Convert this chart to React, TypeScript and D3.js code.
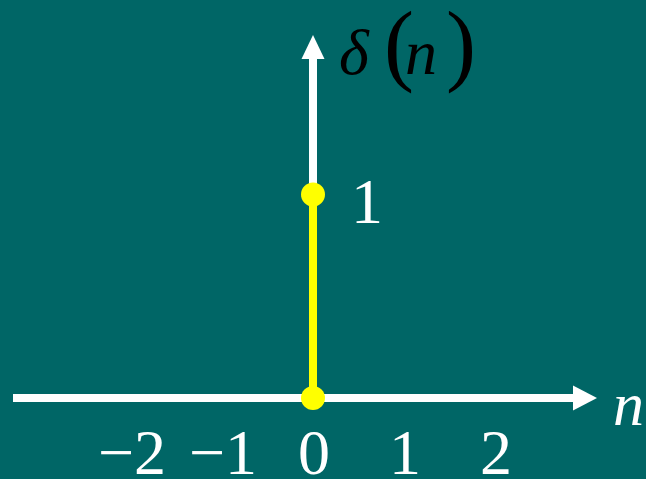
import React from "react";
import * as d3 from "d3";

const nValues = [-2, -1, 0, 1, 2];
const deltaValues = [0, 0, 1, 0, 0];
const tickLabels = ["−2", "−1", "0", "1", "2"];
const yTickValues = [1];
const yTickLabels = ["1"];

const W = 646;
const H = 479;
const BG = "#006666";
const AXIS = "#ffffff";
const STEM = "#ffff00";
const SERIF = "'Liberation Serif', 'Times New Roman', serif";

export default function App() {
  const x = d3.scaleLinear().domain([-2, 2]).range([313 - 2 * 91, 313 + 2 * 91]);
  const y = d3.scaleLinear().domain([0, 1]).range([398, 194.5]);

  const x0 = x(0);
  const y0 = y(0);
  const axisLeft = 13;
  const axisRight = 597;
  const axisTop = 35;
  const headLen = 24;
  const headHalf = 12.5;

  const samples = nValues.map((n, i) => ({ n, v: deltaValues[i] }));
  const stems = samples.filter((d) => d.v !== 0);

  return (
    <svg
      width={W}
      height={H}
      viewBox={`0 0 ${W} ${H}`}
      style={{ position: "absolute", left: 0, top: 0, display: "block" }}
    >
      <rect x={0} y={0} width={W} height={H} fill={BG} />

      {/* horizontal axis */}
      <line x1={axisLeft} y1={y0} x2={axisRight - headLen + 1} y2={y0} stroke={AXIS} strokeWidth={8} />
      <path
        d={`M${axisRight},${y0} L${axisRight - headLen},${y0 - headHalf} L${axisRight - headLen},${y0 + headHalf} Z`}
        fill={AXIS}
      />
      {/* vertical axis */}
      <line x1={x0} y1={y0} x2={x0} y2={axisTop + headLen - 1} stroke={AXIS} strokeWidth={8} />
      <path
        d={`M${x0},${axisTop} L${x0 - 11.5},${axisTop + headLen} L${x0 + 11.5},${axisTop + headLen} Z`}
        fill={AXIS}
      />

      {/* stems */}
      {stems.map((d) => (
        <g key={d.n}>
          <line x1={x(d.n)} y1={y(0)} x2={x(d.n)} y2={y(d.v)} stroke={STEM} strokeWidth={8} />
          <circle cx={x(d.n)} cy={y(d.v)} r={12} fill={STEM} />
          <circle cx={x(d.n)} cy={y(0)} r={12} fill={STEM} />
        </g>
      ))}

      {/* x tick labels */}
      {nValues.map((n, i) => (
        <text
          key={n}
          x={x(n) + 1}
          y={474}
          textAnchor="middle"
          fontFamily={SERIF}
          fontSize={64}
          fill={AXIS}
        >
          {tickLabels[i]}
        </text>
      ))}

      {/* y tick label */}
      {yTickValues.map((v, i) => (
        <text key={v} x={x0 + 38} y={y(v) + 28} fontFamily={SERIF} fontSize={64} fill={AXIS}>
          {yTickLabels[i]}
        </text>
      ))}

      {/* axis titles */}
      <text x={613} y={425} fontFamily={SERIF} fontStyle="italic" fontSize={62} fill={AXIS}>
        n
      </text>
      <g fontFamily={SERIF} fill="#000000">
        <text x={339} y={74} fontSize={64} fontStyle="italic">δ</text>
        <text x={384} y={74} fontSize={90}>(</text>
        <text x={405} y={74} fontSize={64} fontStyle="italic">n</text>
        <text x={446} y={74} fontSize={90}>)</text>
      </g>
    </svg>
  );
}
